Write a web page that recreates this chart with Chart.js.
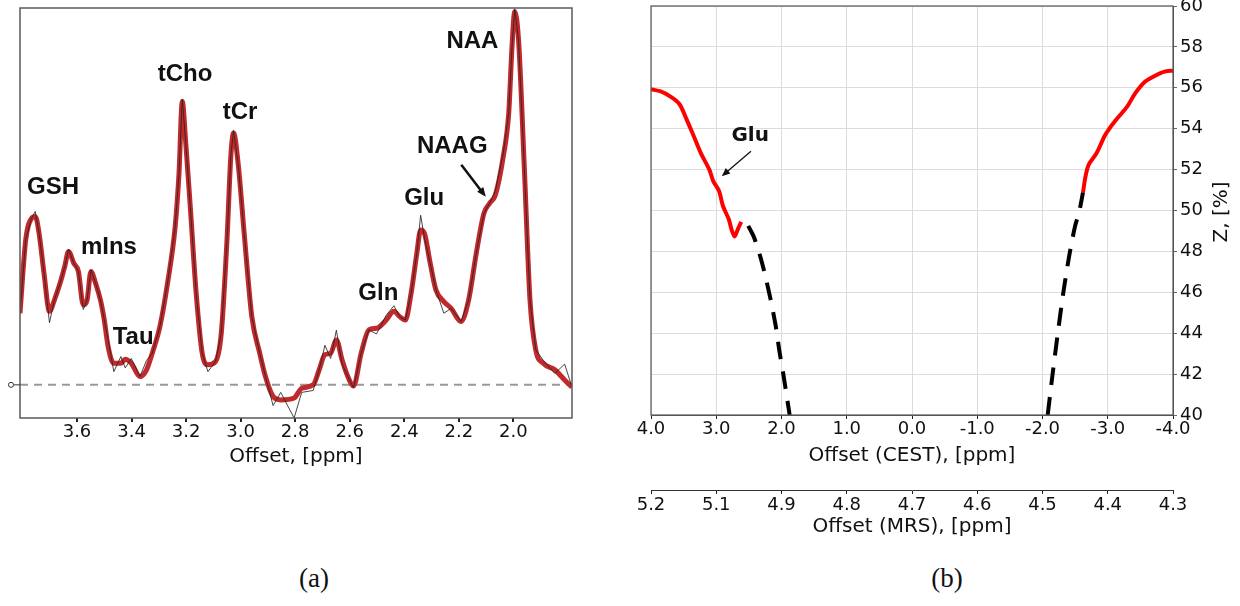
<!DOCTYPE html>
<html>
<head>
<meta charset="utf-8">
<script src="https://cdn.jsdelivr.net/npm/chart.js@4.4.1/dist/chart.umd.min.js"></script>
<style>
  body { margin: 0; background: #fff; width: 1240px; height: 606px; overflow: hidden; position: relative; }
  .panel { position: absolute; top: 0; }
  .caption { position: absolute; top: 563px; font: 27px 'Liberation Serif', serif; color: #111; transform: translateX(-50%); }
</style>
</head>
<body>
<div class="panel" style="left:0;width:600px;height:480px"><canvas id="mrsChart" width="600" height="480"></canvas></div>
<div class="panel" style="left:630px;width:610px;height:540px"><canvas id="cestChart" width="610" height="540"></canvas></div>
<div class="caption" style="left:314px">(a)</div>
<div class="caption" style="left:947px">(b)</div>
<script>
// (a) MRS spectrum, offsets in ppm, intensity in arbitrary units (baseline = 0)
const mrsPpm = [
  3.809, 3.788, 3.767, 3.753, 3.739, 3.721, 3.701, 3.683, 3.662, 3.645,
  3.631, 3.612, 3.595, 3.577, 3.563, 3.549, 3.532, 3.514, 3.500, 3.486,
  3.465, 3.439, 3.423, 3.401, 3.369, 3.345, 3.324, 3.296, 3.268, 3.240,
  3.226, 3.214, 3.202, 3.183, 3.163, 3.141, 3.120, 3.092, 3.071, 3.050,
  3.036, 3.026, 3.008, 2.987, 2.959, 2.930, 2.909, 2.881, 2.853, 2.804,
  2.776, 2.734, 2.712, 2.691, 2.670, 2.649, 2.628, 2.607, 2.586, 2.558,
  2.530, 2.502, 2.466, 2.438, 2.417, 2.396, 2.375, 2.354, 2.340, 2.326,
  2.305, 2.284, 2.255, 2.228, 2.192, 2.164, 2.136, 2.108, 2.087, 2.066,
  2.037, 2.017, 2.005, 1.995, 1.981, 1.960, 1.939, 1.918, 1.890, 1.848,
  1.812, 1.785
];
const mrsFit = [
  19.0, 38.5, 44.2, 44.7, 40.2, 29.6, 19.5, 22.5, 27.0, 31.4,
  35.4, 32.3, 30.1, 21.2, 22.5, 30.1, 27.0, 22.5, 17.2, 10.2,
  5.7, 5.7, 6.8, 5.7, 2.2, 4.0, 8.4, 15.5, 27.0, 42.0,
  56.1, 75.2, 65.0, 45.5, 24.3, 8.4, 5.3, 6.2, 13.7, 38.5,
  60.6, 66.8, 57.9, 40.2, 18.1, 8.4, 2.2, -3.1, -4.0, -3.5,
  -0.9, 0.0, 4.0, 8.0, 8.4, 11.9, 6.6, 2.2, -0.3, 8.4,
  14.6, 15.0, 17.2, 19.5, 18.1, 17.2, 24.3, 34.9, 41.1, 40.2,
  32.3, 25.2, 22.1, 20.3, 16.8, 22.5, 34.9, 45.5, 48.2, 50.4,
  60.6, 72.1, 89.7, 99.0, 91.5, 57.9, 22.5, 9.3, 5.7, 4.0,
  1.3, -0.6
];
const mrsRaw = [
  19.0, 38.5, 44.2, 46.0, 40.2, 29.6, 16.5, 22.5, 27.0, 31.4,
  36.0, 32.3, 30.1, 20.0, 22.5, 30.5, 27.0, 22.5, 17.2, 12.0,
  3.5, 7.5, 4.5, 7.0, 2.2, 6.5, 8.4, 15.5, 27.0, 42.0,
  56.1, 75.8, 65.0, 45.5, 24.3, 8.4, 3.5, 6.2, 13.7, 38.5,
  60.6, 67.5, 57.9, 40.2, 18.1, 8.4, 2.2, -5.5, -2.0, -8.8,
  -2.0, -1.5, 4.0, 10.5, 7.0, 14.5, 5.5, 2.2, -0.8, 8.4,
  14.6, 13.5, 18.5, 21.0, 18.1, 17.2, 24.3, 34.9, 45.0, 39.0,
  32.3, 25.2, 19.0, 20.3, 16.8, 22.5, 34.9, 45.5, 48.2, 51.5,
  61.5, 72.1, 89.7, 99.8, 91.5, 57.9, 22.5, 9.3, 6.5, 3.0,
  5.5, -0.6
];
const mrsTicks = [3.6, 3.4, 3.2, 3.0, 2.8, 2.6, 2.4, 2.2, 2.0];
const peakNames = ['GSH', 'mIns', 'Tau', 'tCho', 'tCr', 'Gln', 'Glu', 'NAAG', 'NAA'];
const peakLabelPpm = [3.688, 3.483, 3.394, 3.204, 3.002, 2.495, 2.327, 2.224, 2.150];
const peakLabelY = [52.5, 36.6, 12.7, 82.5, 72.4, 24.4, 49.6, 63.4, 91.2];

// (b) Z-spectrum, CEST offset in ppm vs Z in %
const zRedLeftX = [4.0, 3.851, 3.702, 3.565, 3.463, 3.344, 3.225, 3.106, 3.046, 2.957, 2.897, 2.808, 2.766, 2.718, 2.670, 2.617];
const zRedLeftY = [55.93, 55.82, 55.57, 55.21, 54.52, 53.63, 52.73, 52.0, 51.44, 50.95, 50.22, 49.57, 49.08, 48.73, 49.08, 49.44];
const zDashLeftX = [2.51, 2.42, 2.30, 2.18, 2.09, 2.03, 1.97, 1.875];
const zDashLeftY = [49.25, 48.68, 47.46, 45.84, 44.38, 43.08, 41.95, 40.0];
const zDashRightX = [-2.08, -2.14, -2.23, -2.32, -2.41, -2.50, -2.56, -2.62];
const zDashRightY = [40.0, 41.62, 43.89, 46.0, 47.79, 49.25, 49.9, 50.87];
const zRedRightX = [-2.62, -2.66, -2.71, -2.83, -2.95, -3.03, -3.15, -3.30, -3.42, -3.57, -3.72, -3.87, -4.0];
const zRedRightY = [50.87, 51.68, 52.25, 52.81, 53.63, 54.03, 54.52, 55.09, 55.73, 56.30, 56.58, 56.79, 56.84];
const mrsOffsetLabels = ['5.2', '5.1', '4.9', '4.8', '4.7', '4.6', '4.5', '4.4', '4.3'];

const tickFont = { family: "'DejaVu Sans'", size: 18 };
const titleFont = { family: "'DejaVu Sans'", size: 20 };
const pts = (xs, ys) => xs.map((x, i) => ({ x: x, y: ys[i] }));

function arrow(ctx, x1, y1, x2, y2, width, head) {
    const a = Math.atan2(y2 - y1, x2 - x1);
    ctx.save();
    ctx.strokeStyle = '#111';
    ctx.fillStyle = '#111';
    ctx.lineWidth = width;
    ctx.beginPath();
    ctx.moveTo(x1, y1);
    ctx.lineTo(x2 - Math.cos(a) * head * 0.8, y2 - Math.sin(a) * head * 0.8);
    ctx.stroke();
    ctx.beginPath();
    ctx.moveTo(x2, y2);
    ctx.lineTo(x2 - head * Math.cos(a - 0.4), y2 - head * Math.sin(a - 0.4));
    ctx.lineTo(x2 - head * Math.cos(a + 0.4), y2 - head * Math.sin(a + 0.4));
    ctx.closePath();
    ctx.fill();
    ctx.restore();
}

const mrsDecor = {
    id: 'mrsDecor',
    afterDraw(chart) {
        const { ctx, chartArea: a, scales: { x, y } } = chart;
        ctx.save();
        ctx.strokeStyle = '#5a5a5a';
        ctx.lineWidth = 1.5;
        ctx.strokeRect(a.left, a.top, a.right - a.left, a.bottom - a.top);
        // zero marker at the left edge
        const y0 = y.getPixelForValue(0);
        ctx.strokeStyle = '#333';
        ctx.lineWidth = 1;
        ctx.beginPath();
        ctx.arc(a.left - 9, y0, 2.5, 0, Math.PI * 2);
        ctx.moveTo(a.left - 6, y0);
        ctx.lineTo(a.left, y0);
        ctx.stroke();
        ctx.fillStyle = '#111';
        ctx.font = "bold 24px 'Liberation Sans'";
        ctx.textAlign = 'center';
        ctx.textBaseline = 'middle';
        peakNames.forEach((n, i) => {
            ctx.fillText(n, x.getPixelForValue(peakLabelPpm[i]), y.getPixelForValue(peakLabelY[i]));
        });
        arrow(ctx, x.getPixelForValue(2.191), y.getPixelForValue(58.4),
              x.getPixelForValue(2.101), y.getPixelForValue(49.9), 2.5, 10);
        ctx.restore();
    }
};

new Chart(document.getElementById('mrsChart'), {
    type: 'line',
    data: {
        datasets: [
            {
                label: 'Measured',
                data: pts(mrsPpm, mrsRaw),
                borderColor: 'rgba(45,35,35,0.85)',
                borderWidth: 1,
                pointRadius: 0,
                tension: 0
            },
            {
                label: 'Fit',
                data: pts(mrsPpm, mrsFit),
                borderColor: '#c02a2c',
                borderWidth: 5,
                pointRadius: 0,
                cubicInterpolationMode: 'monotone'
            },
            {
                label: 'Baseline',
                data: pts([mrsPpm[0], mrsPpm[mrsPpm.length - 1]], [0, 0]),
                borderColor: '#999',
                borderWidth: 2,
                borderDash: [8, 6],
                pointRadius: 0
            }
        ]
    },
    options: {
        responsive: false,
        animation: false,
        layout: { padding: { left: 20, right: 28, top: 8, bottom: 0 } },
        plugins: { legend: { display: false }, tooltip: { enabled: false } },
        scales: {
            x: {
                type: 'linear',
                reverse: true,
                min: 1.785,
                max: 3.809,
                afterBuildTicks: s => { s.ticks = mrsTicks.map(v => ({ value: v })); },
                afterFit: s => { s.height = 62; s.paddingLeft = 0; s.paddingRight = 0; },
                grid: { drawOnChartArea: false, tickLength: 4, tickColor: '#222', lineWidth: 2 },
                border: { display: false },
                ticks: { font: tickFont, color: '#111', padding: 0, maxRotation: 0, callback: v => v.toFixed(1) },
                title: { display: true, text: 'Offset, [ppm]', font: titleFont, color: '#111', padding: { top: 0, bottom: 11 } }
            },
            y: { type: 'linear', display: false, min: -8.8, max: 100 }
        }
    },
    plugins: [mrsDecor]
});

const cestDecor = {
    id: 'cestDecor',
    afterDraw(chart) {
        const { ctx, chartArea: a, scales: { x, y } } = chart;
        ctx.save();
        ctx.strokeStyle = '#555';
        ctx.lineWidth = 1.2;
        ctx.strokeRect(a.left, a.top, a.right - a.left, a.bottom - a.top);
        ctx.fillStyle = '#111';
        ctx.font = "20px 'DejaVu Sans'";
        ctx.textAlign = 'center';
        ctx.textBaseline = 'middle';
        ctx.translate(592, 212);
        ctx.rotate(-Math.PI / 2);
        ctx.fillText('Z, [%]', 0, 0);
        ctx.restore();
        ctx.save();
        ctx.fillStyle = '#111';
        ctx.font = "bold 20px 'DejaVu Sans'";
        ctx.textAlign = 'center';
        ctx.textBaseline = 'middle';
        ctx.fillText('Glu', x.getPixelForValue(2.48), y.getPixelForValue(53.66));
        arrow(ctx, x.getPixelForValue(2.468), y.getPixelForValue(52.9),
              x.getPixelForValue(2.915), y.getPixelForValue(51.68), 1.3, 9);
        ctx.restore();
    }
};

const redLine = { borderColor: '#ff0000', borderWidth: 4, pointRadius: 0, tension: 0.3 };
const dashLine = { borderColor: '#000', borderWidth: 4, borderDash: [18, 12], pointRadius: 0, tension: 0.3 };

new Chart(document.getElementById('cestChart'), {
    type: 'line',
    data: {
        datasets: [
            Object.assign({ label: 'Z left', data: pts(zRedLeftX, zRedLeftY) }, redLine),
            Object.assign({ label: 'Z left (extrapolated)', data: pts(zDashLeftX, zDashLeftY) }, dashLine),
            Object.assign({ label: 'Z right (extrapolated)', data: pts(zDashRightX, zDashRightY) }, dashLine),
            Object.assign({ label: 'Z right', data: pts(zRedRightX, zRedRightY) }, redLine)
        ]
    },
    options: {
        responsive: false,
        animation: false,
        layout: { padding: { left: 21, right: 0, top: 6, bottom: 0 } },
        plugins: { legend: { display: false }, tooltip: { enabled: false } },
        scales: {
            x: {
                type: 'linear',
                reverse: true,
                min: -4,
                max: 4,
                ticks: { stepSize: 1, font: tickFont, color: '#111', padding: 0, maxRotation: 0, callback: v => v.toFixed(1) },
                afterFit: s => { s.height = 75; s.paddingLeft = 0; s.paddingRight = 0; },
                grid: { color: '#dcdcdc', tickLength: 4, tickColor: '#222' },
                border: { color: '#555' },
                title: { display: true, text: 'Offset (CEST), [ppm]', font: titleFont, color: '#111', padding: { top: 0, bottom: 22 } }
            },
            x2: {
                type: 'linear',
                position: 'bottom',
                reverse: true,
                min: -4,
                max: 4,
                ticks: { stepSize: 1, font: tickFont, color: '#111', padding: 1, maxRotation: 0,
                         callback: (v, i) => mrsOffsetLabels[i] },
                afterFit: s => { s.height = 50; s.paddingLeft = 0; s.paddingRight = 0; },
                grid: { drawOnChartArea: false, tickLength: 4, tickColor: '#222' },
                border: { color: '#333' },
                title: { display: true, text: 'Offset (MRS), [ppm]', font: titleFont, color: '#111', padding: { top: 0, bottom: 1 } }
            },
            y: {
                type: 'linear',
                position: 'right',
                min: 40,
                max: 60,
                ticks: { stepSize: 2, font: tickFont, color: '#111', padding: 3 },
                afterFit: s => { s.width = 67; s.paddingTop = 0; s.paddingBottom = 0; },
                grid: { color: '#dcdcdc', tickLength: 4, tickColor: '#666' },
                border: { color: '#555' }
            }
        }
    },
    plugins: [cestDecor]
});
</script>
</body>
</html>
